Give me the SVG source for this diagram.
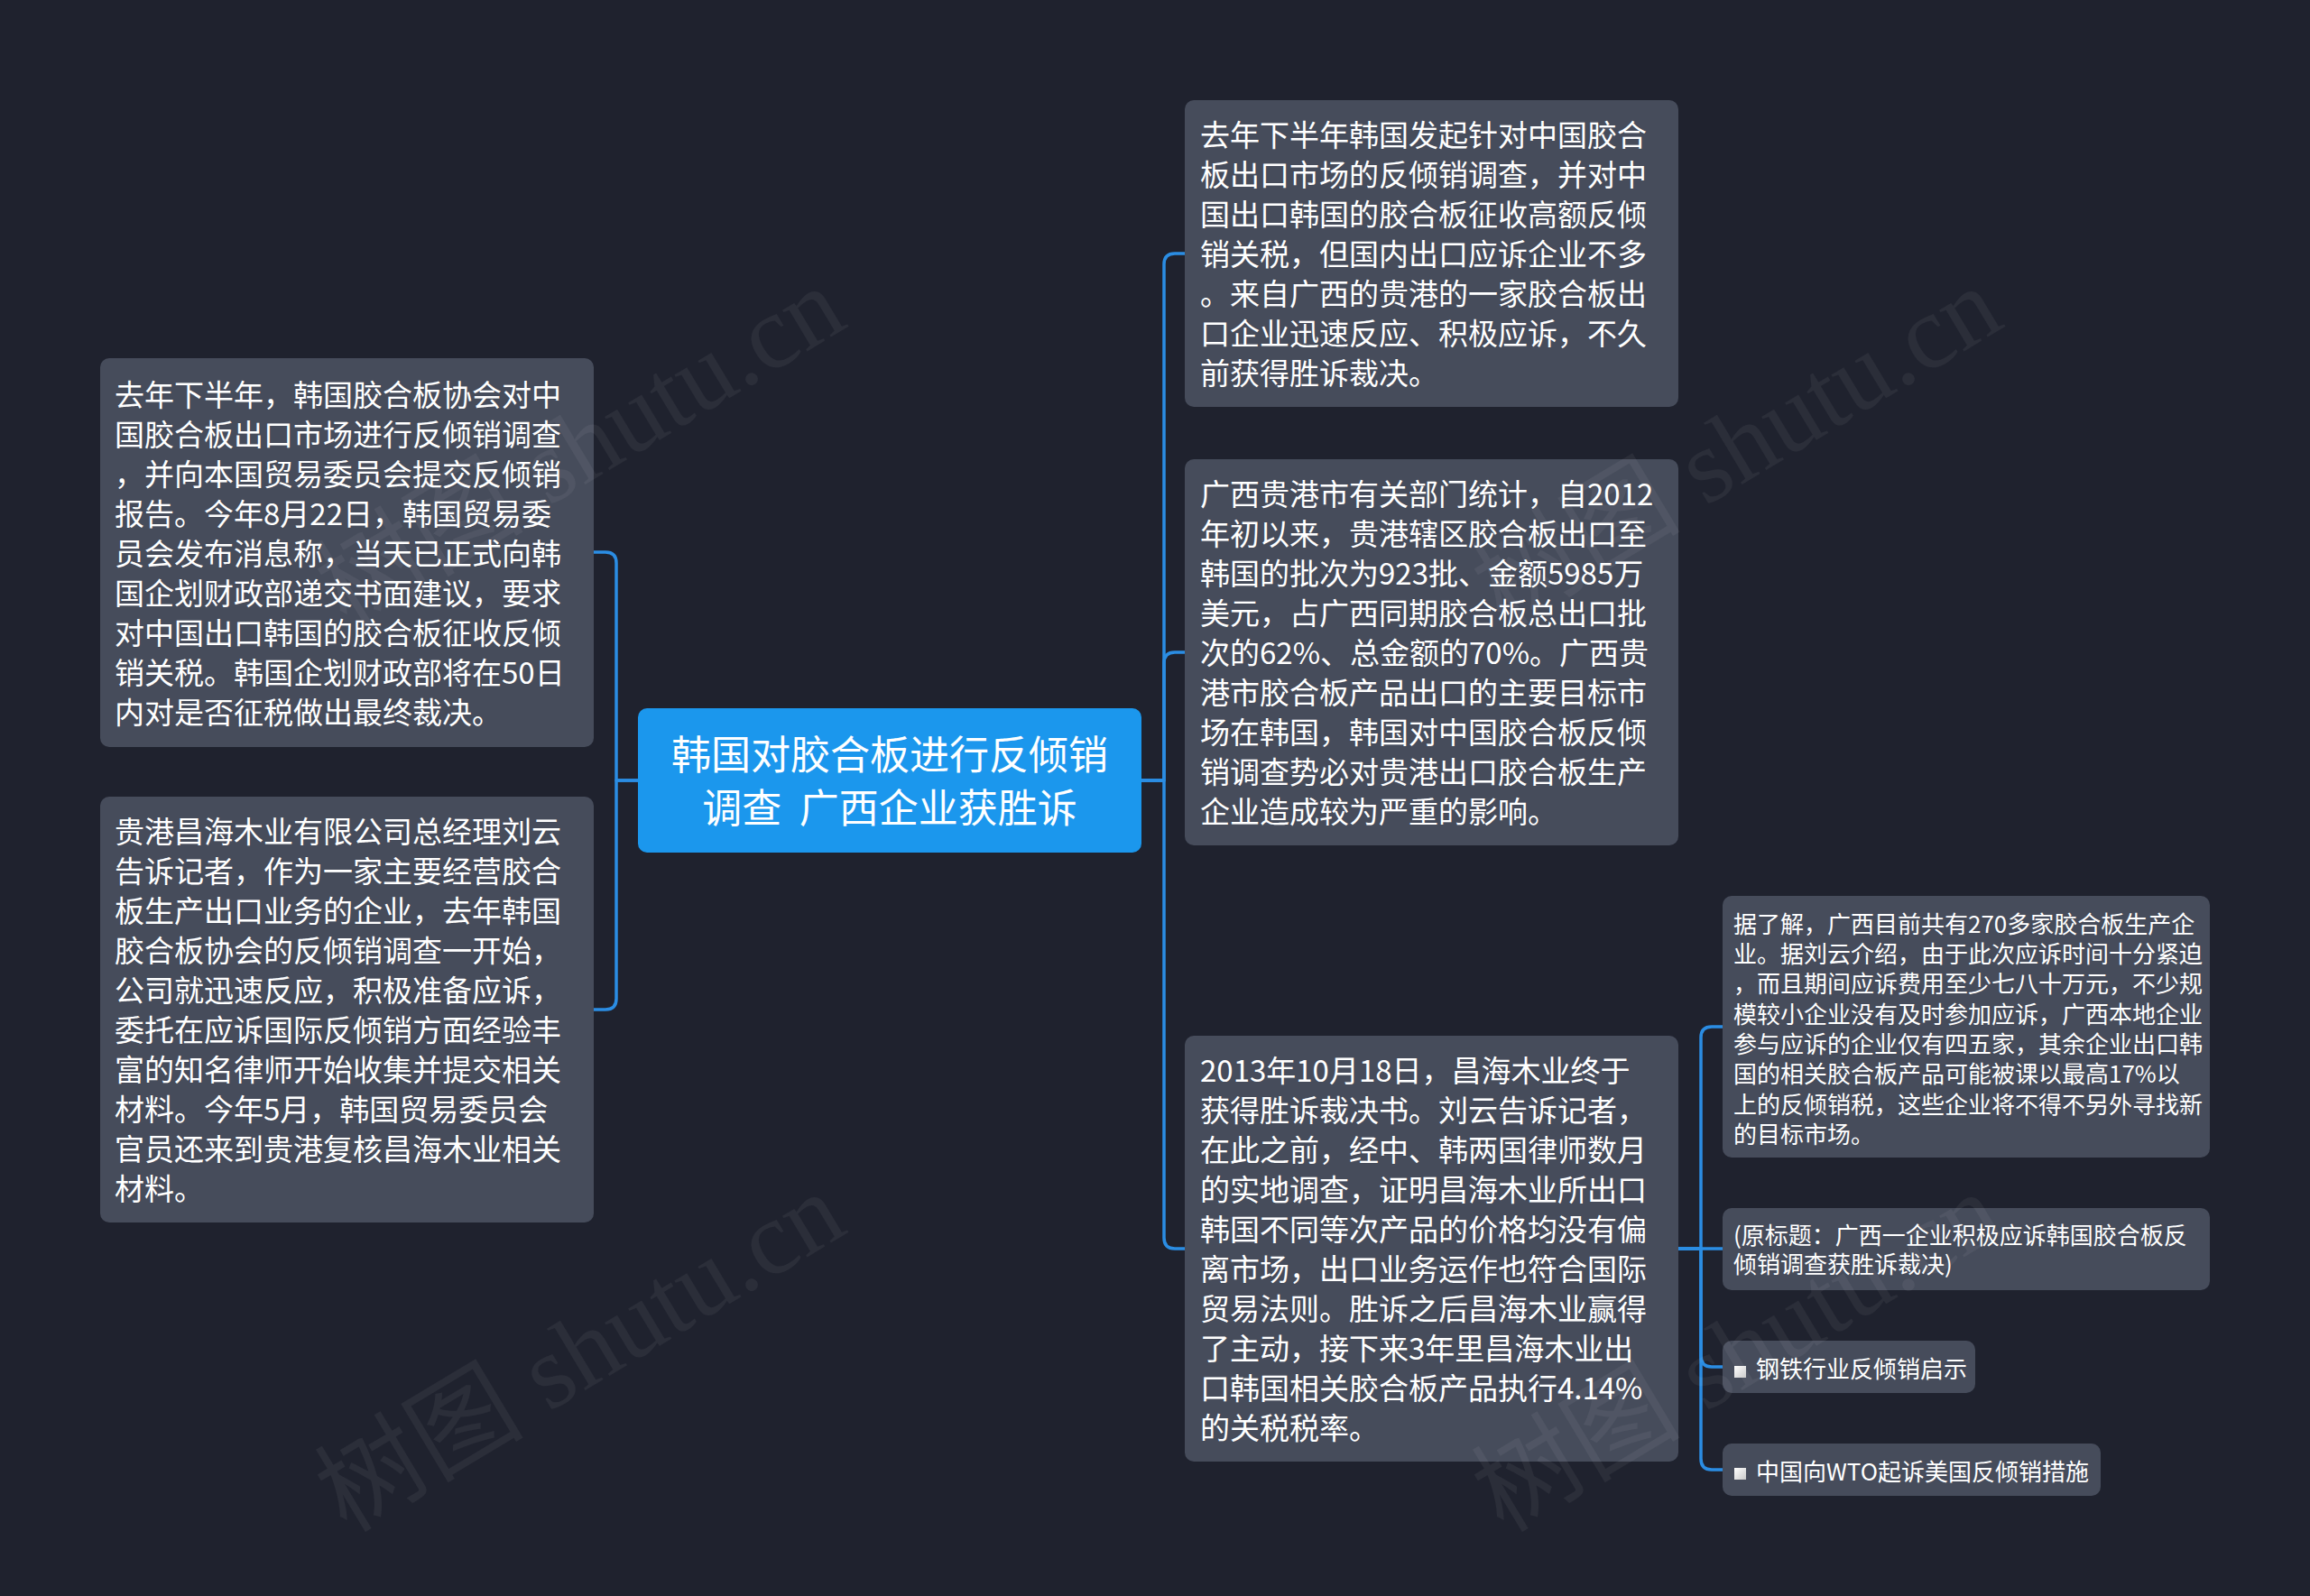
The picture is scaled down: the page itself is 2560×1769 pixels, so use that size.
<svg xmlns="http://www.w3.org/2000/svg" width="2560" height="1769" viewBox="0 0 2560 1769">
<defs>
<style>
.bg{fill:#1f222e}
.box{fill:#464c5b}
.root{fill:#1b97ed}
.t{font-family:"Noto Sans CJK SC","Noto Sans",sans-serif;fill:#ffffff;dominant-baseline:central}
.m{font-size:33px}
.s{font-size:26px}
.c{font-size:44px;text-anchor:middle;white-space:pre}
.conn path{fill:none;stroke:#2b8de3;stroke-width:3.5;stroke-linecap:round;stroke-linejoin:round}
.wm{font-family:"Liberation Serif","Noto Sans CJK SC",serif;font-size:116px;fill:#ffffff;fill-opacity:0.055}
</style>
<linearGradient id="bul" x1="0" y1="0" x2="1" y2="1">
<stop offset="0" stop-color="#ffffff"/>
<stop offset="1" stop-color="#c9c9c9"/>
</linearGradient>
</defs>
<rect class="bg" x="0" y="0" width="2560" height="1769"/>

<g id="connectors" class="conn">
<path d="M707,865 H683 V624 Q683,612 671,612 H658"/>
<path d="M707,865 H683 V1107 Q683,1119 671,1119 H658"/>
<path d="M1265,865 H1290 V293 Q1290,281 1302,281 H1313"/>
<path d="M1265,865 H1290 V735 Q1290,723 1302,723 H1313"/>
<path d="M1265,865 H1290 V1372 Q1290,1384 1302,1384 H1313"/>
<path d="M1860,1384 H1885 V1150 Q1885,1138 1897,1138 H1909"/>
<path d="M1860,1384 H1909"/>
<path d="M1860,1384 H1885 V1503 Q1885,1515 1897,1515 H1909"/>
<path d="M1860,1384 H1885 V1617 Q1885,1629 1897,1629 H1909"/>
</g>

<g id="root">
<rect class="root" x="707" y="785" width="558" height="160" rx="10"/>
<text class="t c" x="986" y="834">韩国对胶合板进行反倾销</text>
<text class="t c" x="986" y="893" xml:space="preserve">调查  广西企业获胜诉</text>
</g>

<g id="left1">
<rect class="box" x="111" y="397" width="547" height="431" rx="10"/>
<text class="t m" x="127">
<tspan x="127" y="436">去年下半年，韩国胶合板协会对中</tspan>
<tspan x="127" y="480">国胶合板出口市场进行反倾销调查</tspan>
<tspan x="127" y="524">，并向本国贸易委员会提交反倾销</tspan>
<tspan x="127" y="568">报告。今年8月22日，韩国贸易委</tspan>
<tspan x="127" y="612">员会发布消息称，当天已正式向韩</tspan>
<tspan x="127" y="656">国企划财政部递交书面建议，要求</tspan>
<tspan x="127" y="700">对中国出口韩国的胶合板征收反倾</tspan>
<tspan x="127" y="744">销关税。韩国企划财政部将在50日</tspan>
<tspan x="127" y="788">内对是否征税做出最终裁决。</tspan>
</text>
</g>

<g id="left2">
<rect class="box" x="111" y="883" width="547" height="472" rx="10"/>
<text class="t m" x="127">
<tspan x="127" y="920">贵港昌海木业有限公司总经理刘云</tspan>
<tspan x="127" y="964">告诉记者，作为一家主要经营胶合</tspan>
<tspan x="127" y="1008">板生产出口业务的企业，去年韩国</tspan>
<tspan x="127" y="1052">胶合板协会的反倾销调查一开始，</tspan>
<tspan x="127" y="1096">公司就迅速反应，积极准备应诉，</tspan>
<tspan x="127" y="1140">委托在应诉国际反倾销方面经验丰</tspan>
<tspan x="127" y="1184">富的知名律师开始收集并提交相关</tspan>
<tspan x="127" y="1228">材料。今年5月，韩国贸易委员会</tspan>
<tspan x="127" y="1272">官员还来到贵港复核昌海木业相关</tspan>
<tspan x="127" y="1316">材料。</tspan>
</text>
</g>

<g id="right1">
<rect class="box" x="1313" y="111" width="547" height="340" rx="10"/>
<text class="t m" x="1330">
<tspan x="1330" y="148">去年下半年韩国发起针对中国胶合</tspan>
<tspan x="1330" y="192">板出口市场的反倾销调查，并对中</tspan>
<tspan x="1330" y="236">国出口韩国的胶合板征收高额反倾</tspan>
<tspan x="1330" y="280">销关税，但国内出口应诉企业不多</tspan>
<tspan x="1330" y="324">。来自广西的贵港的一家胶合板出</tspan>
<tspan x="1330" y="368">口企业迅速反应、积极应诉，不久</tspan>
<tspan x="1330" y="412">前获得胜诉裁决。</tspan>
</text>
</g>

<g id="right2">
<rect class="box" x="1313" y="509" width="547" height="428" rx="10"/>
<text class="t m" x="1330">
<tspan x="1330" y="546">广西贵港市有关部门统计，自2012</tspan>
<tspan x="1330" y="590">年初以来，贵港辖区胶合板出口至</tspan>
<tspan x="1330" y="634">韩国的批次为923批、金额5985万</tspan>
<tspan x="1330" y="678">美元，占广西同期胶合板总出口批</tspan>
<tspan x="1330" y="722">次的62%、总金额的70%。广西贵</tspan>
<tspan x="1330" y="766">港市胶合板产品出口的主要目标市</tspan>
<tspan x="1330" y="810">场在韩国，韩国对中国胶合板反倾</tspan>
<tspan x="1330" y="854">销调查势必对贵港出口胶合板生产</tspan>
<tspan x="1330" y="898">企业造成较为严重的影响。</tspan>
</text>
</g>

<g id="right3">
<rect class="box" x="1313" y="1148" width="547" height="472" rx="10"/>
<text class="t m" x="1330">
<tspan x="1330" y="1185">2013年10月18日，昌海木业终于</tspan>
<tspan x="1330" y="1229">获得胜诉裁决书。刘云告诉记者，</tspan>
<tspan x="1330" y="1273">在此之前，经中、韩两国律师数月</tspan>
<tspan x="1330" y="1317">的实地调查，证明昌海木业所出口</tspan>
<tspan x="1330" y="1361">韩国不同等次产品的价格均没有偏</tspan>
<tspan x="1330" y="1405">离市场，出口业务运作也符合国际</tspan>
<tspan x="1330" y="1449">贸易法则。胜诉之后昌海木业赢得</tspan>
<tspan x="1330" y="1493">了主动，接下来3年里昌海木业出</tspan>
<tspan x="1330" y="1537">口韩国相关胶合板产品执行4.14%</tspan>
<tspan x="1330" y="1581">的关税税率。</tspan>
</text>
</g>

<g id="sub1">
<rect class="box" x="1909" y="993" width="540" height="290" rx="10"/>
<text class="t s" x="1921">
<tspan x="1921" y="1022">据了解，广西目前共有270多家胶合板生产企</tspan>
<tspan x="1921" y="1055">业。据刘云介绍，由于此次应诉时间十分紧迫</tspan>
<tspan x="1921" y="1088">，而且期间应诉费用至少七八十万元，不少规</tspan>
<tspan x="1921" y="1122">模较小企业没有及时参加应诉，广西本地企业</tspan>
<tspan x="1921" y="1155">参与应诉的企业仅有四五家，其余企业出口韩</tspan>
<tspan x="1921" y="1188">国的相关胶合板产品可能被课以最高17%以</tspan>
<tspan x="1921" y="1222">上的反倾销税，这些企业将不得不另外寻找新</tspan>
<tspan x="1921" y="1255">的目标市场。</tspan>
</text>
</g>

<g id="sub2">
<rect class="box" x="1909" y="1339" width="540" height="91" rx="10"/>
<text class="t s" x="1921">
<tspan x="1921" y="1367">(原标题：广西一企业积极应诉韩国胶合板反</tspan>
<tspan x="1921" y="1399">倾销调查获胜诉裁决)</tspan>
</text>
</g>

<g id="sub3">
<rect class="box" x="1909" y="1486" width="280" height="58" rx="10"/>
<rect x="1922" y="1514" width="13" height="13" fill="url(#bul)"/>
<text class="t s" x="1946" y="1515">钢铁行业反倾销启示</text>
</g>

<g id="sub4">
<rect class="box" x="1909" y="1600" width="419" height="58" rx="10"/>
<rect x="1922" y="1627" width="13" height="13" fill="url(#bul)"/>
<text class="t s" x="1946" y="1629">中国向WTO起诉美国反倾销措施</text>
</g>

<g id="watermarks">
<text class="wm" transform="translate(384,1700) rotate(-31)">树图 shutu.cn</text>
<text class="wm" transform="translate(384,696) rotate(-31)">树图 shutu.cn</text>
<text class="wm" transform="translate(1666,1700) rotate(-31)">树图 shutu.cn</text>
<text class="wm" transform="translate(1666,696) rotate(-31)">树图 shutu.cn</text>
</g>
</svg>
